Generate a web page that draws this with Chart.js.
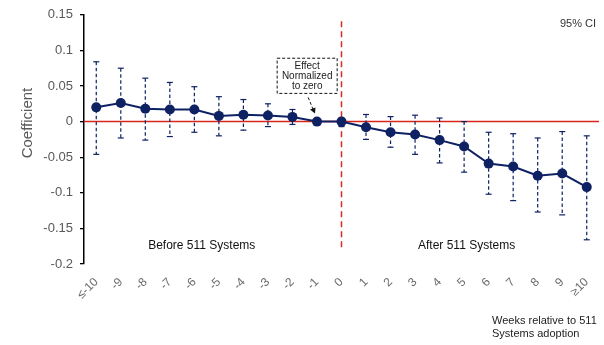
<!DOCTYPE html>
<html>
<head>
<meta charset="utf-8">
<script src="https://cdn.jsdelivr.net/npm/chart.js@4"></script>
<style>
  html, body { margin: 0; padding: 0; background: #fff; }
  #wrap { width: 604px; height: 345px; }
</style>
</head>
<body>
<div id="wrap"><canvas id="chart" width="604" height="345"></canvas></div>
<script>
// Event-study coefficients, weeks relative to adoption
const weeks = ['≤-10', '-9', '-8', '-7', '-6', '-5', '-4', '-3', '-2', '-1',
               '0', '1', '2', '3', '4', '5', '6', '7', '8', '9', '≥10'];
const coef = [0.020, 0.026, 0.018, 0.017, 0.017, 0.008, 0.0095, 0.0085, 0.0066, 0,
              0, -0.008, -0.015, -0.018, -0.026, -0.035, -0.059, -0.063, -0.076, -0.073, -0.092];
const ciHigh = [0.084, 0.075, 0.061, 0.055, 0.049, 0.035, 0.031, 0.025, 0.017, null,
                0.005, 0.010, 0.007, 0.009, 0.005, 0.000, -0.015, -0.017, -0.023, -0.014, -0.020];
const ciLow = [-0.046, -0.023, -0.026, -0.021, -0.015, -0.020, -0.012, -0.007, -0.004, null,
               -0.007, -0.025, -0.036, -0.046, -0.058, -0.071, -0.102, -0.111, -0.127, -0.131, -0.166];
const yTicks = ['0.15', '0.1', '0.05', '0', '-0.05', '-0.1', '-0.15', '-0.2'];

const navy = '#0d2163';
const red = '#d9261c';
const grayText = '#595959';
const font = 'Arial, "Liberation Sans", sans-serif';

// dashed error bars, zero line, adoption marker and text notes
const decorations = {
  id: 'decorations',
  beforeDatasetsDraw(chart) {
    const { ctx, chartArea, scales: { x, y } } = chart;
    ctx.save();
    // zero line
    ctx.strokeStyle = red;
    ctx.lineWidth = 1.5;
    ctx.beginPath();
    ctx.moveTo(chartArea.left, y.getPixelForValue(0));
    ctx.lineTo(chartArea.right, y.getPixelForValue(0));
    ctx.stroke();
    // adoption week
    const x0 = x.getPixelForValue(weeks.indexOf('0'));
    ctx.strokeStyle = '#dc2a2a';
    ctx.setLineDash([6, 4]);
    ctx.beginPath();
    ctx.moveTo(x0, y.getPixelForValue(0.141));
    ctx.lineTo(x0, y.getPixelForValue(-0.18));
    ctx.stroke();
    // error bars
    ctx.strokeStyle = navy;
    ctx.lineWidth = 1.2;
    ctx.setLineDash([3.5, 2.5]);
    coef.forEach((v, i) => {
      if (ciHigh[i] === null) return;
      const px = x.getPixelForValue(i);
      ctx.beginPath();
      ctx.moveTo(px, y.getPixelForValue(ciHigh[i]));
      ctx.lineTo(px, y.getPixelForValue(ciLow[i]));
      ctx.stroke();
    });
    ctx.setLineDash([]);
    coef.forEach((v, i) => {
      if (ciHigh[i] === null) return;
      const px = x.getPixelForValue(i);
      [ciHigh[i], ciLow[i]].forEach(c => {
        const py = y.getPixelForValue(c);
        ctx.beginPath();
        ctx.moveTo(px - 3, py);
        ctx.lineTo(px + 3, py);
        ctx.stroke();
      });
    });
    ctx.restore();
  },
  afterDraw(chart) {
    const { ctx, chartArea, scales: { x, y } } = chart;
    ctx.save();
    // axis title, sits a little above the axis centre
    ctx.fillStyle = grayText;
    ctx.font = '15px ' + font;
    ctx.textAlign = 'center';
    ctx.textBaseline = 'middle';
    ctx.translate(28, y.getPixelForValue(-0.002));
    ctx.rotate(-Math.PI / 2);
    ctx.fillText('Coefficient', 0, 0);
    ctx.setTransform(1, 0, 0, 1, 0, 0);

    ctx.fillStyle = '#111';
    ctx.font = '12px ' + font;
    ctx.fillText('Before 511 Systems', x.getPixelForValue(4.3), y.getPixelForValue(-0.1736));
    ctx.fillText('After 511 Systems', x.getPixelForValue(15.1), y.getPixelForValue(-0.1736));

    ctx.fillStyle = '#333';
    ctx.font = '11px ' + font;
    ctx.textAlign = 'right';
    ctx.fillText('95% CI', chartArea.right - 3, y.getPixelForValue(0.1365));

    ctx.fillStyle = '#222';
    ctx.textAlign = 'left';
    ctx.fillText('Weeks relative to 511', 492, 321);
    ctx.fillText('Systems adoption', 492, 334);

    // "Effect normalized to zero" note
    const bx = x.getPixelForValue(8.6);
    const top = y.getPixelForValue(0.089);
    const bot = y.getPixelForValue(0.0396);
    ctx.strokeStyle = '#111';
    ctx.lineWidth = 1;
    ctx.setLineDash([3, 2]);
    ctx.strokeRect(bx - 30, top, 60, bot - top);
    ctx.fillStyle = '#222';
    ctx.font = '10px ' + font;
    ctx.textAlign = 'center';
    ctx.fillText('Effect', bx, top + 8);
    ctx.fillText('Normalized', bx, top + 18);
    ctx.fillText('to zero', bx, top + 28);
    // arrow to week -1
    const ax = x.getPixelForValue(9) - 3;
    const ay = y.getPixelForValue(0) - 10;
    ctx.beginPath();
    ctx.moveTo(bx + 1, bot + 4);
    ctx.lineTo(ax, ay);
    ctx.stroke();
    ctx.setLineDash([]);
    ctx.fillStyle = '#111';
    ctx.beginPath();
    ctx.moveTo(ax + 1, ay + 2);
    ctx.lineTo(ax - 4, ay - 2);
    ctx.lineTo(ax + 1.5, ay - 4);
    ctx.closePath();
    ctx.fill();
    ctx.restore();
  }
};

new Chart(document.getElementById('chart'), {
  type: 'line',
  data: {
    labels: weeks,
    datasets: [{
      data: coef,
      borderColor: navy,
      backgroundColor: navy,
      borderWidth: 2,
      pointRadius: 5,
      pointBorderWidth: 0,
      pointBackgroundColor: navy,
      tension: 0
    }]
  },
  options: {
    responsive: false,
    animation: false,
    layout: { padding: { top: 14, right: 0, left: 0, bottom: 0 } },
    plugins: { legend: { display: false }, tooltip: { enabled: false } },
    scales: {
      x: {
        type: 'category',
        offset: true,
        grid: { display: false, drawTicks: false },
        border: { display: false },
        ticks: {
          color: '#6b6b6b',
          font: { family: font, size: 12 },
          minRotation: 45,
          maxRotation: 45,
          padding: 11,
          autoSkip: false
        },
        afterFit(scale) {
          scale.height = 81;
          scale.paddingRight = 3;
        }
      },
      y: {
        min: -0.2,
        max: 0.15,
        grid: { drawOnChartArea: false, color: '#000', tickLength: 4, lineWidth: 1.3 },
        border: { color: '#000', width: 1.5 },
        ticks: {
          stepSize: 0.05,
          color: grayText,
          font: { family: font, size: 13 },
          padding: 7,
          callback: (v) => yTicks[Math.round((0.15 - v) / 0.05)]
        },
        afterFit(scale) { scale.width = 84; }
      }
    }
  },
  plugins: [decorations]
});
</script>
</body>
</html>
